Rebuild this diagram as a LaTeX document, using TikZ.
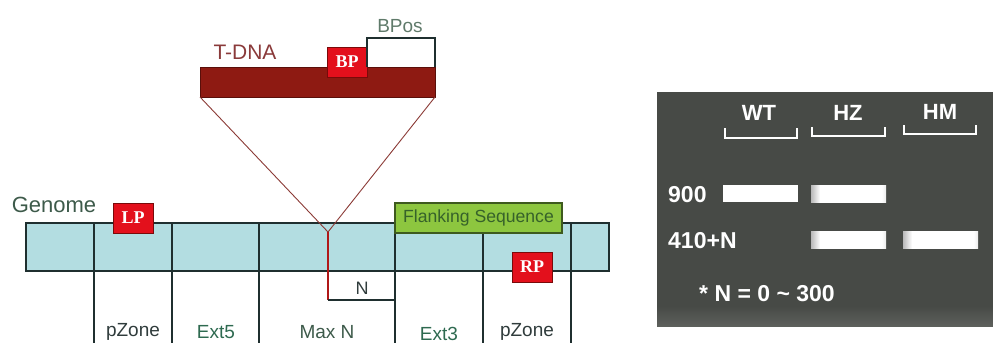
\documentclass[tikz,border=0pt]{standalone}
\usepackage{fontspec}
\setmainfont{Liberation Sans}
\newfontfamily\boxfont{Liberation Serif}
\definecolor{tdnared}{HTML}{8E1A12}
\definecolor{tdnadark}{HTML}{5A0F0A}
\definecolor{vline}{HTML}{8B3A36}
\definecolor{insred}{HTML}{B01818}
\definecolor{genblue}{HTML}{B3DDE1}
\definecolor{genedge}{HTML}{1F2F2F}
\definecolor{primred}{HTML}{E3101C}
\definecolor{primedge}{HTML}{7A0A0A}
\definecolor{flankfill}{HTML}{8DC63F}
\definecolor{flankedge}{HTML}{3E5A1E}
\definecolor{flanktext}{HTML}{36622A}
\definecolor{labgreen}{HTML}{3D5A4A}
\definecolor{tdnatext}{HTML}{8A3A3A}
\definecolor{bpostext}{HTML}{5F7A6A}
\definecolor{coldark}{HTML}{303C3C}
\definecolor{colgreen}{HTML}{2E6A50}
\definecolor{gelgrey}{HTML}{474A46}
\pgfdeclarehorizontalshading{bandfade}{100bp}{color(0bp)=(gray!55); color(25bp)=(gray!55); color(31bp)=(white); color(72bp)=(white); color(75bp)=(gray!15); color(100bp)=(gray!15)}
\tikzset{
  rectbox/.style={inner sep=0pt, outer sep=0pt, anchor=north west},
  primer/.style={rectbox, fill=primred, draw=primedge, line width=1pt,
    minimum width=40pt, minimum height=30pt,
    text=white, font=\boxfont\bfseries\fontsize{18}{20}\selectfont},
  collabel/.style={font=\fontsize{19}{22}\selectfont, inner sep=0pt},
  colline/.style={draw=genedge, line width=1.2pt},
  gellabel/.style={text=white, font=\bfseries\fontsize{23}{26}\selectfont, inner sep=0pt},
  gelhead/.style={text=white, font=\bfseries\fontsize{22}{25}\selectfont, inner sep=0pt},
  bracket/.style={draw=white, line width=2pt},
  band/.style={rectbox, fill=white, minimum width=75pt, minimum height=17pt},
  fadeband/.style={rectbox, minimum width=75pt, minimum height=17pt, shading=bandfade}
}
\begin{document}
\begin{tikzpicture}[x=1pt, y=-1pt]
\useasboundingbox (0,0) rectangle (993,343);
% ---------- left diagram ----------
\node[rectbox, fill=genblue, draw=genedge, line width=1.2pt, minimum width=583pt, minimum height=48pt] (genome) at (26,223) {};
\foreach \x [count=\i] in {94,172,259,395,483,571} {
  \coordinate (ct\i) at (\x,223);
  \coordinate (cb\i) at (\x,343);
  \draw[colline] (ct\i) -- (cb\i);
}
\node[collabel, text=coldark] (pz1) at (133,332) {pZone};
\node[collabel, text=colgreen] (ext5) at (216,332) {Ext5};
\node[collabel, text=labgreen] (maxn) at (327,332) {Max N};
\node[collabel, text=colgreen] (ext3) at (439,334) {Ext3};
\node[collabel, text=coldark] (pz2) at (527,332) {pZone};
% T-DNA
\node[rectbox, fill=tdnared, draw=tdnadark, line width=1pt, minimum width=235pt, minimum height=30pt] (tdna) at (200,67) {};
\node[text=tdnatext, font=\fontsize{21}{24}\selectfont, inner sep=0pt] (tdnalab) at (245,52) {T-DNA};
\node[primer] (bp) at (327,47) {BP};
\draw[genedge, line width=1.2pt] (bp.north east |- tdna.north) -- (367,38) -| (tdna.north east);
\node[text=bpostext, font=\fontsize{19}{22}\selectfont, inner sep=0pt] (bpos) at (400,26) {BPos};
% insertion
\coordinate (v) at (328,232);
\coordinate (nb) at (328,300);
\coordinate (ne) at (395,300);
\draw[vline, line width=0.9pt] (tdna.south west) -- (v);
\draw[vline, line width=0.9pt] (tdna.south east) -- (v);
\draw[insred, line width=1.6pt] (v) -- (nb);
\draw[genedge, line width=1.2pt] (nb) -- (ne);
\node[collabel, text=coldark, font=\fontsize{18}{21}\selectfont] (nlab) at (362,288) {N};
% genome label and primers
\node[text=labgreen, font=\fontsize{22}{25}\selectfont, inner sep=0pt] (genlab) at (54,205) {Genome};
\node[primer] (lp) at (113,203) {LP};
\node[primer] (rp) at (512,252) {RP};
\node[rectbox, fill=flankfill, draw=flankedge, line width=1.2pt, minimum width=167pt, minimum height=30pt,
  text=flanktext, font=\fontsize{17.6}{20}\selectfont] (flank) at (395,203) {Flanking Sequence};
% ---------- gel ----------
\node[rectbox, fill=gelgrey, minimum width=336pt, minimum height=234pt] (gel) at (657,92) {};
\shade[bottom color=gelgrey!88!white, top color=gelgrey] (657,306) rectangle (993,326);
\node[gelhead] (wt) at (759,113) {WT};
\node[gelhead] (hz) at (848,113) {HZ};
\node[gelhead] (hm) at (940,112) {HM};
\draw[bracket] (725,128) -- (725,138) -- (797,138) -- (797,128);
\draw[bracket] (812,127) -- (812,136) -- (885,136) -- (885,127);
\draw[bracket] (904,125) -- (904,134) -- (976,134) -- (976,125);
\node[band] (b1) at (723,185) {};
\node[fadeband] (b2) at (811,185) {};
\node[fadeband] (b3) at (811,231) {};
\node[fadeband] (b4) at (903,231) {};
\node[gellabel, anchor=west] (l900) at (668,195) {900};
\node[gellabel, anchor=west] (l410) at (668,241) {410+N};
\node[gellabel, anchor=west] (lnote) at (699,294) {* N = 0 \textasciitilde{} 300};
\end{tikzpicture}
\end{document}
